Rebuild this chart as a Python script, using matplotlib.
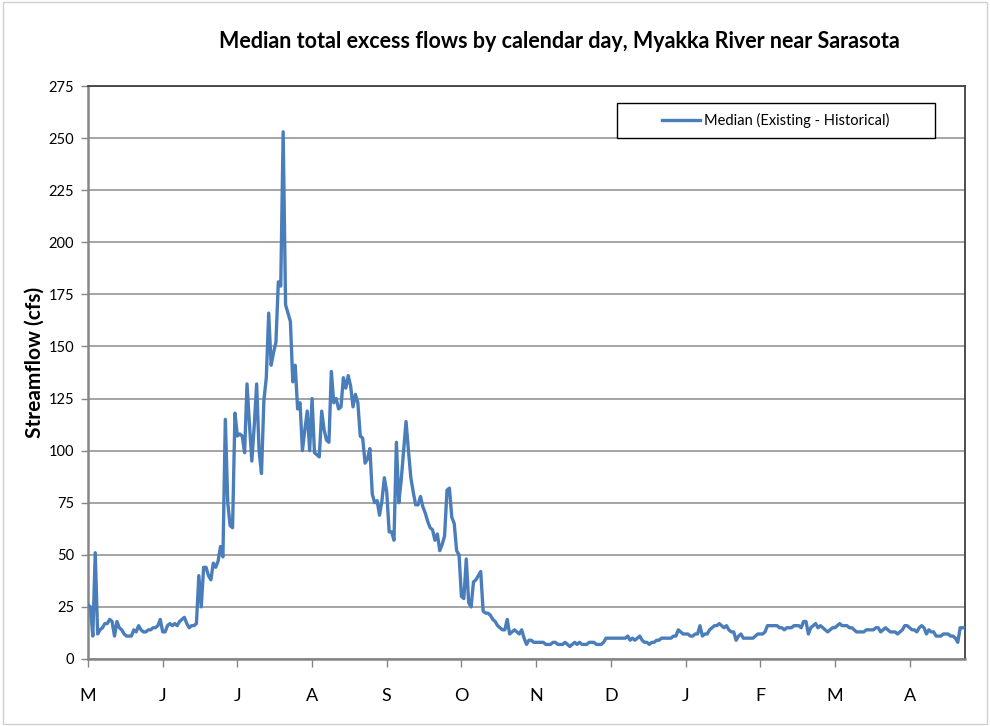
import matplotlib
matplotlib.use("Agg")
import matplotlib.pyplot as plt
from matplotlib.patches import Rectangle
import numpy as np

# Daily median excess flow (cfs), May 1 .. Apr 30
may = [26, 25, 11, 51, 12, 14, 15, 17, 17, 19, 18, 11, 18, 15, 14, 12, 11, 11, 11, 14,
       13, 16, 14, 13, 13, 14, 14, 15, 15, 16, 19]
jun = [13, 13, 16, 17, 16, 17, 16, 18, 19, 20, 17, 15, 16, 16, 17, 40, 25, 44, 44, 40,
       38, 46, 44, 47, 54, 49, 115, 75, 64, 63]
jul = [118, 107, 108, 107, 99, 132, 113, 95, 112, 132, 100, 89, 124, 135, 166, 141, 147, 152, 181, 179,
       253, 170, 166, 162, 133, 141, 120, 123, 100, 110, 119]
aug = [100, 125, 99, 98, 97, 119, 110, 105, 104, 138, 123, 125, 120, 121, 135, 130, 136, 131, 121, 127,
       123, 107, 106, 94, 96, 101, 79, 75, 76, 69, 76]
sep = [87, 80, 61, 61, 57, 104, 75, 86, 100, 114, 100, 87, 80, 74, 74, 78, 73, 70, 66, 63,
       62, 57, 60, 52, 55, 59, 81, 82, 68, 65]
octo = [52, 50, 30, 29, 48, 27, 25, 37, 38, 40, 42, 23, 22, 22, 21, 19, 18, 16, 15, 14,
        14, 19, 12, 13, 14, 13, 12, 14, 10, 7, 9]
nov = [9, 8, 8, 8, 8, 8, 7, 7, 7, 8, 8, 7, 7, 7, 8, 7, 6, 7, 8, 7,
       8, 7, 7, 7, 8, 8, 8, 7, 7, 7]
dec = [8, 10, 10, 10, 10, 10, 10, 10, 10, 10, 11, 9, 10, 9, 10, 11, 9, 8, 8, 7,
       8, 8, 9, 9, 10, 10, 10, 10, 10, 11, 11]
jan = [14, 13, 12, 12, 12, 11, 11, 12, 12, 16, 11, 12, 12, 14, 15, 16, 16, 17, 16, 15,
       16, 14, 13, 13, 9, 11, 12, 10, 10, 10, 10]
feb = [10, 11, 12, 12, 12, 13, 16, 16, 16, 16, 16, 15, 15, 14, 15, 15, 15, 16, 16, 16,
       15, 18, 18, 12, 15, 16, 17, 15]
mar = [16, 15, 14, 13, 14, 15, 15, 16, 17, 16, 16, 16, 15, 15, 14, 13, 13, 13, 13, 14,
       14, 14, 14, 15, 15, 13, 14, 15, 14, 13, 13]
apr = [13, 12, 13, 14, 16, 16, 15, 14, 14, 13, 15, 16, 15, 12, 14, 13, 13, 11, 11, 11,
       12, 12, 12, 11, 11, 10, 8, 15, 15, 15]

values = may + jun + jul + aug + sep + octo + nov + dec + jan + feb + mar + apr
tick_labels = ["M", "J", "J", "A", "S", "O", "N", "D", "J", "F", "M", "A"]
y_ticks = list(range(0, 276, 25))

title = "Median total excess flows by calendar day, Myakka River near Sarasota"
series_name = "Median (Existing - Historical)"
ylabel = "Streamflow (cfs)"

plt.rcParams['font.family'] = ['Lato', 'DejaVu Sans']

fig = plt.figure(figsize=(9.9, 7.26), dpi=100)
ax = fig.add_axes([88/990, 1 - 659/726, (965-88)/990, (659-86)/726])

days = np.arange(len(values))
ax.plot(days, values, color="#4a7ebb", lw=2.4, solid_joinstyle="round", zorder=3,
        label=series_name)

ax.set_xlim(0, len(values) - 1)
ax.set_ylim(0, 275)
ax.set_yticks(y_ticks)
ax.set_yticklabels([str(v) for v in y_ticks], fontsize=10.5)
ax.set_xticks(np.arange(0, 12) * 31)
ax.set_xticklabels(tick_labels, fontsize=13)
ax.tick_params(axis="x", direction="out", length=6, width=1, color="#868686", pad=15)
ax.tick_params(axis="y", direction="out", length=5, width=1, color="#868686", pad=5)

ax.grid(axis="y", color="#8c8c8c", lw=1.1, zorder=1)
ax.set_axisbelow(True)
for side in ["left", "bottom"]:
    ax.spines[side].set_color("#868686")
    ax.spines[side].set_linewidth(1.8)
for side in ["top", "right"]:
    ax.spines[side].set_color("#404040")
    ax.spines[side].set_linewidth(1.3)

fig.text(35/990, 1 - 362/726, ylabel, fontsize=15, fontweight="bold",
         rotation=90, ha="center", va="center")

fig.text(559/990, 1 - 42/726, title, fontsize=15.5, fontweight="bold",
         ha="center", va="center")

# legend box
x0 = (617 - 88) / 877
w = (935 - 617) / 877
y0 = (659 - 138) / 573
h = (138 - 103) / 573
ax.add_patch(Rectangle((x0, y0), w, h, transform=ax.transAxes, facecolor="white",
                       edgecolor="black", lw=1.0, zorder=4))
leg = ax.legend(loc="center", bbox_to_anchor=(x0 + w/2, y0 + h/2), frameon=False,
                fontsize=10.5, handlelength=2.6, handletextpad=0.3)
leg.set_zorder(5)

# chart area border
fig.add_artist(Rectangle((0.003, 0.003), 0.994, 0.994, transform=fig.transFigure,
                         facecolor="none", edgecolor="#d0d0d0", lw=1))

fig.savefig("out.png", dpi=100)
